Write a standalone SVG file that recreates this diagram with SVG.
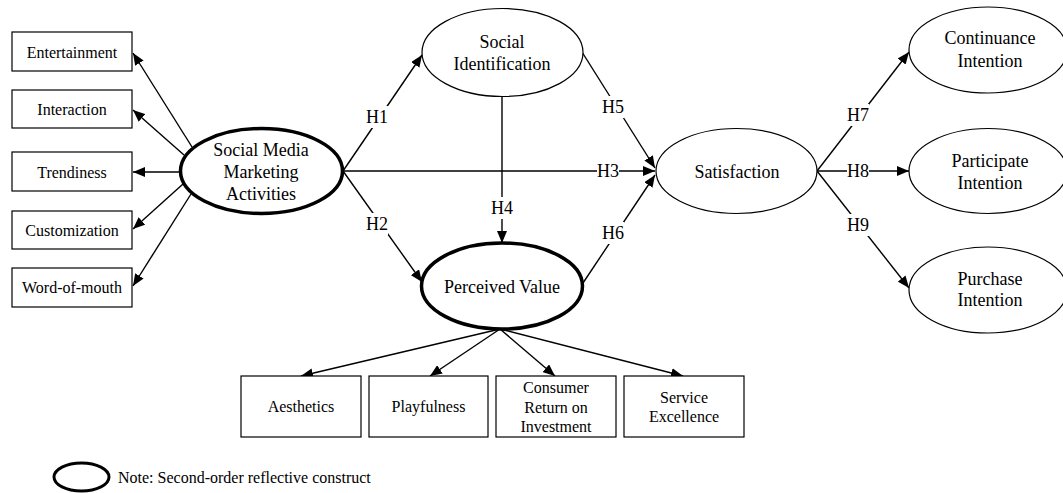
<svg xmlns="http://www.w3.org/2000/svg" width="1063" height="493" viewBox="0 0 1063 493" font-family="'Liberation Serif', 'DejaVu Serif', serif">
<style>
text{font-family:'Liberation Serif','DejaVu Serif',serif;fill:#000;text-anchor:middle}
.b{font-size:16px}
.e{font-size:18px}
.h{font-size:18px}
.n{font-size:16px;text-anchor:start}
.box{fill:#fff;stroke:#000;stroke-width:1.2}
.el{fill:#fff;stroke:#000;stroke-width:1.2}
.thick{fill:#fff;stroke:#000;stroke-width:3.5}
.c{stroke:#000;stroke-width:1.4;fill:none;marker-end:url(#a)}
.bg{fill:#fff}
</style>
<defs>
<marker id="a" markerUnits="userSpaceOnUse" markerWidth="12" markerHeight="10" viewBox="0 0 12 10" refX="12" refY="5" orient="auto">
<path d="M0,0 L12,5 L0,10 z" fill="#000"/>
</marker>
</defs>
<g id="connectors">
<line class="c" x1="192" y1="147" x2="133" y2="53"/>
<line class="c" x1="184" y1="155" x2="133" y2="110"/>
<line class="c" x1="180" y1="172" x2="133" y2="172"/>
<line class="c" x1="183" y1="184" x2="133" y2="229"/>
<line class="c" x1="191" y1="194" x2="133" y2="286"/>
<line class="c" x1="343" y1="171" x2="422" y2="55"/>
<line class="c" x1="343" y1="171" x2="422" y2="282"/>
<line class="c" x1="343" y1="171" x2="655" y2="171"/>
<line class="c" x1="502" y1="96" x2="502" y2="243"/>
<line class="c" x1="582" y1="52" x2="655" y2="168"/>
<line class="c" x1="583" y1="283" x2="655" y2="175"/>
<line class="c" x1="817" y1="171" x2="909" y2="52"/>
<line class="c" x1="817" y1="171" x2="909" y2="171"/>
<line class="c" x1="817" y1="171" x2="909" y2="288"/>
<line class="c" x1="500" y1="329" x2="301" y2="376"/>
<line class="c" x1="500" y1="329" x2="430" y2="376"/>
<line class="c" x1="500" y1="329" x2="555" y2="376"/>
<line class="c" x1="500" y1="329" x2="683" y2="376"/>
<rect class="bg" x="366" y="106" width="22" height="22"/><text class="h" x="377" y="123">H1</text>
<rect class="bg" x="366" y="213" width="22" height="22"/><text class="h" x="377" y="230">H2</text>
<rect class="bg" x="597" y="160" width="22" height="22"/><text class="h" x="608" y="177">H3</text>
<rect class="bg" x="491" y="197" width="22" height="22"/><text class="h" x="502" y="214">H4</text>
<rect class="bg" x="602" y="96" width="22" height="22"/><text class="h" x="613" y="113">H5</text>
<rect class="bg" x="602" y="222" width="22" height="22"/><text class="h" x="613" y="239">H6</text>
<rect class="bg" x="847" y="104" width="22" height="22"/><text class="h" x="858" y="121">H7</text>
<rect class="bg" x="847" y="160" width="22" height="22"/><text class="h" x="858" y="177">H8</text>
<rect class="bg" x="847" y="214" width="22" height="22"/><text class="h" x="858" y="231">H9</text>
</g>
<g id="entertainment"><rect class="box" x="12" y="32" width="120" height="39"/><text class="b" x="72" y="57.5">Entertainment</text></g>
<g id="interaction"><rect class="box" x="12" y="90" width="120" height="38"/><text class="b" x="72" y="114.5">Interaction</text></g>
<g id="trendiness"><rect class="box" x="12" y="152" width="120" height="39"/><text class="b" x="72" y="177.5">Trendiness</text></g>
<g id="customization"><rect class="box" x="12" y="211" width="120" height="38"/><text class="b" x="72" y="235.5">Customization</text></g>
<g id="word-of-mouth"><rect class="box" x="12" y="268" width="120" height="39"/><text class="b" x="72" y="292.5">Word-of-mouth</text></g>
<g id="smma"><ellipse class="thick" cx="261.5" cy="171" rx="81" ry="42.5"/><text class="e" x="261" y="155.5">Social Media</text><text class="e" x="261" y="177.5">Marketing</text><text class="e" x="261" y="199.5">Activities</text></g>
<g id="social-identification"><ellipse class="el" cx="502.5" cy="52.5" rx="80.5" ry="44"/><text class="e" x="502" y="48">Social</text><text class="e" x="502" y="69.5">Identification</text></g>
<g id="perceived-value"><ellipse class="thick" cx="502" cy="286" rx="80.5" ry="43"/><text class="e" x="502" y="293">Perceived Value</text></g>
<g id="satisfaction"><ellipse class="el" cx="736.5" cy="171" rx="80.5" ry="42.5"/><text class="e" x="737" y="177.5">Satisfaction</text></g>
<g id="continuance-intention"><ellipse class="el" cx="988" cy="50" rx="79" ry="43"/><text class="e" x="990" y="44">Continuance</text><text class="e" x="990" y="67">Intention</text></g>
<g id="participate-intention"><ellipse class="el" cx="988" cy="171" rx="79" ry="42.5"/><text class="e" x="990" y="167">Participate</text><text class="e" x="990" y="188.5">Intention</text></g>
<g id="purchase-intention"><ellipse class="el" cx="988" cy="290" rx="79" ry="43"/><text class="e" x="990" y="284.5">Purchase</text><text class="e" x="990" y="306">Intention</text></g>
<g id="aesthetics"><rect class="box" x="241" y="376" width="120" height="61"/><text class="b" x="301" y="412">Aesthetics</text></g>
<g id="playfulness"><rect class="box" x="369" y="376" width="119" height="61"/><text class="b" x="428.5" y="412">Playfulness</text></g>
<g id="consumer-roi"><rect class="box" x="496" y="376" width="120" height="61"/><text class="b" x="556" y="392.5">Consumer</text><text class="b" x="556" y="412.5">Return on</text><text class="b" x="556" y="432">Investment</text></g>
<g id="service-excellence"><rect class="box" x="624" y="376" width="120" height="61"/><text class="b" x="684" y="402.5">Service</text><text class="b" x="684" y="422">Excellence</text></g>
<g id="legend"><ellipse cx="81.5" cy="477" rx="27.5" ry="14" fill="#fff" stroke="#000" stroke-width="3"/><text class="n" x="118" y="482.5">Note: Second-order reflective construct</text></g>
</svg>
